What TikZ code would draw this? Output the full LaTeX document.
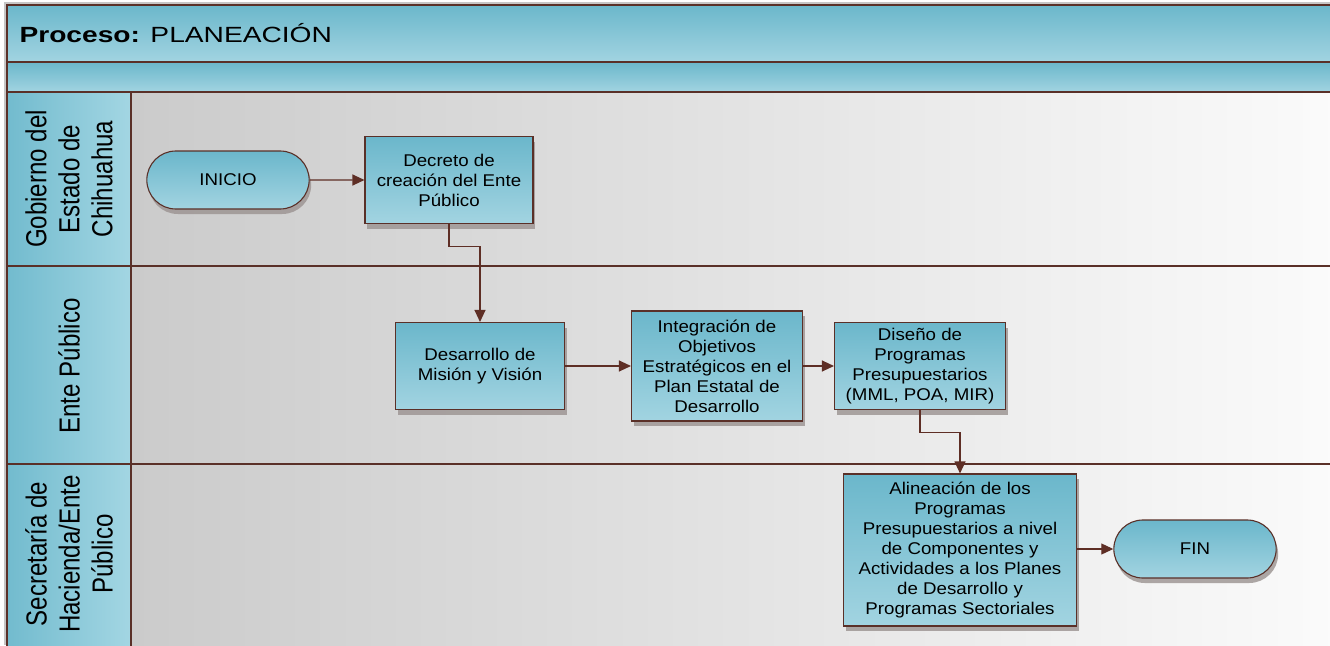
\documentclass[tikz,border=0pt]{standalone}
\usepackage{fontspec}
\setmainfont{Liberation Sans}[FakeStretch=1.1]
\newfontfamily\titlefont{Liberation Sans}[FakeStretch=1.28]
\newfontfamily\lanefont{Liberation Sans}[FakeStretch=0.83]
\usetikzlibrary{shapes.misc,shadows,arrows.meta}
\definecolor{boxtop}{HTML}{6BB7CB}
\definecolor{boxbot}{HTML}{A2D4E1}
\definecolor{brdr}{HTML}{5A3028}
\definecolor{arrc}{HTML}{5E2E25}
\definecolor{linec}{HTML}{6E4038}
\definecolor{laneL}{HTML}{CBCBCB}
\definecolor{laneR}{HTML}{FBFBFB}
\definecolor{labL}{HTML}{72BBCE}
\definecolor{labR}{HTML}{A3D6E3}
\definecolor{shd}{HTML}{9A9290}
\tikzset{
  x=1pt, y=1pt,
  flowbox/.style={rectangle, draw=brdr, line width=1.1pt, top color=boxtop, bottom color=boxbot,
    drop shadow={shadow xshift=2pt, shadow yshift=-5pt, fill=shd, opacity=0.8},
    align=center, inner sep=2pt, font=\fontsize{17}{20}\selectfont},
  term/.style={rounded rectangle, draw=brdr, line width=1.1pt, top color=boxtop, bottom color=boxbot,
    drop shadow={shadow xshift=2pt, shadow yshift=-5pt, fill=shd, opacity=0.8},
    minimum width=169pt, minimum height=58pt, font=\fontsize{17}{20}\selectfont},
  arr/.style={draw=linec, line width=1.1pt, -{Triangle[length=12pt,width=11pt,fill=arrc]}, arrc},
  band/.style={draw=brdr, line width=1.6pt, top color=boxtop, bottom color=boxbot},
  lanelab/.style={draw=brdr, line width=1.6pt, left color=labL, right color=labR},
  lanebody/.style={draw=brdr, line width=1.6pt, left color=laneL, right color=laneR},
  lanetext/.style={rotate=90, align=center, font=\lanefont\fontsize{29}{33}\selectfont}
}
\begin{document}
\begin{tikzpicture}
\useasboundingbox (0,0) rectangle (1330,-645);
\fill[white] (0,0) rectangle (1330,-645);
% outer faint frame
\draw[gray!45, line width=1.2pt] (5,-645) -- (5,-3) -- (1340,-3);
% header bands
\shade[band] (7,-5) rectangle (1340,-62);
\shade[band] (7,-62) rectangle (1340,-92);
\node[anchor=west, font=\titlefont\fontsize{22}{26}\selectfont] (title) at (16,-33) {\textbf{Proceso:} PLANEACIÓN};
% lanes
\shade[lanebody] (131,-92) rectangle (1340,-266);
\shade[lanebody] (131,-266) rectangle (1340,-464);
\shade[lanebody] (131,-464) rectangle (1340,-660);
\shade[lanelab] (7,-92) rectangle (131,-266);
\shade[lanelab] (7,-266) rectangle (131,-464);
\shade[lanelab] (7,-464) rectangle (131,-660);
\node[lanetext] (l1) at (69,-179) {Gobierno del\\Estado de\\Chihuahua};
\node[lanetext] (l2) at (69,-366) {Ente Público};
\node[lanetext] (l3) at (69,-554) {Secretaría de\\Hacienda/Ente\\Público};
% nodes
\node[term] (ini) at (228,-180) {INICIO};
\node[flowbox, minimum width=168pt, minimum height=87pt] (dec) at (449,-180) {Decreto de\\creación del Ente\\Público};
\node[flowbox, minimum width=169pt, minimum height=87pt] (des) at (480,-366) {Desarrollo de\\Misión y Visión};
\node[flowbox, minimum width=171pt, minimum height=110pt] (int) at (717,-366) {Integración de\\Objetivos\\Estratégicos en el\\Plan Estatal de\\Desarrollo};
\node[flowbox, minimum width=171pt, minimum height=87pt] (dis) at (920,-366) {Diseño de\\Programas\\Presupuestarios\\(MML, POA, MIR)};
\node[flowbox, minimum width=233pt, minimum height=152pt] (ali) at (960,-550) {Alineación de los\\Programas\\Presupuestarios a nivel\\de Componentes y\\Actividades a los Planes\\de Desarrollo y\\Programas Sectoriales};
\node[term] (fin) at (1195,-549) {FIN};
% connectors
\draw[arr] (ini) -- (dec);
\draw[arr] (dec.south) -- ++(0,-22) -| (des.north);
\draw[arr] (des) -- (int);
\draw[arr] (int) -- (dis);
\draw[arr] (dis.south) -- ++(0,-22) -| (ali.north);
\draw[arr] (ali.east |- fin.west) -- (fin.west);
\end{tikzpicture}
\end{document}
